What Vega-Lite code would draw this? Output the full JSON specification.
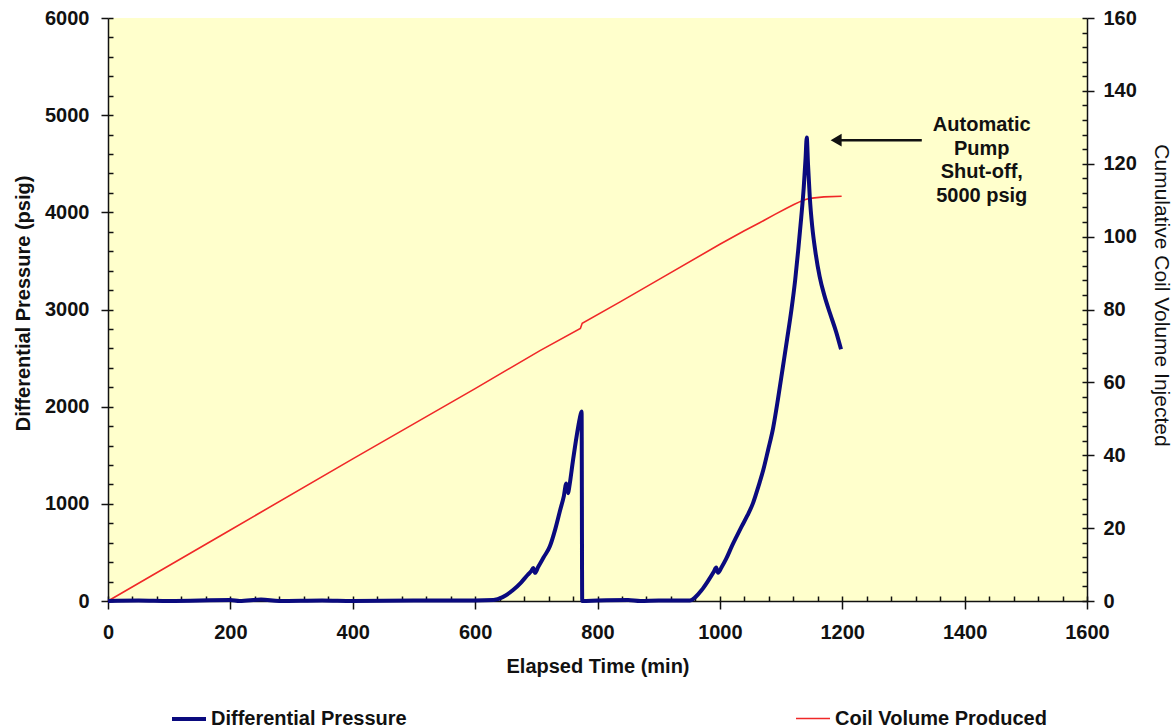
{
  "$schema": "https://vega.github.io/schema/vega-lite/v6.json",
  "autosize": {"type": "none"},
  "width": 979,
  "height": 583,
  "padding": {"left": 108, "top": 18, "right": 89, "bottom": 127},
  "background": "#FFFFFF",
  "view": {"fill": "#FFFFCC", "stroke": null},
  "config": {
    "font": "Liberation Sans",
    "axis": {
      "domainColor": "#111111",
      "domainWidth": 1.5,
      "tickColor": "#111111",
      "tickWidth": 1.5,
      "grid": false,
      "labelFlush": false,
      "labelFont": "Liberation Sans",
      "labelFontWeight": "bold",
      "labelFontSize": 20,
      "labelColor": "#111111",
      "titleFont": "Liberation Sans",
      "titleFontWeight": "bold",
      "titleFontSize": 20,
      "titleColor": "#111111"
    }
  },
  "datasets": {
    "pressure": [
      {"t": 0, "p": 0, "s": "Differential Pressure"},
      {"t": 50, "p": 5, "s": "Differential Pressure"},
      {"t": 100, "p": 0, "s": "Differential Pressure"},
      {"t": 200, "p": 10, "s": "Differential Pressure"},
      {"t": 215, "p": 0, "s": "Differential Pressure"},
      {"t": 250, "p": 15, "s": "Differential Pressure"},
      {"t": 280, "p": 0, "s": "Differential Pressure"},
      {"t": 350, "p": 5, "s": "Differential Pressure"},
      {"t": 400, "p": 0, "s": "Differential Pressure"},
      {"t": 500, "p": 5, "s": "Differential Pressure"},
      {"t": 600, "p": 5, "s": "Differential Pressure"},
      {"t": 630, "p": 10, "s": "Differential Pressure"},
      {"t": 645, "p": 40, "s": "Differential Pressure"},
      {"t": 662, "p": 113, "s": "Differential Pressure"},
      {"t": 675, "p": 190, "s": "Differential Pressure"},
      {"t": 686, "p": 270, "s": "Differential Pressure"},
      {"t": 692, "p": 310, "s": "Differential Pressure"},
      {"t": 695, "p": 340, "s": "Differential Pressure"},
      {"t": 698, "p": 290, "s": "Differential Pressure"},
      {"t": 703, "p": 350, "s": "Differential Pressure"},
      {"t": 712, "p": 450, "s": "Differential Pressure"},
      {"t": 722, "p": 560, "s": "Differential Pressure"},
      {"t": 731, "p": 740, "s": "Differential Pressure"},
      {"t": 739, "p": 936, "s": "Differential Pressure"},
      {"t": 745, "p": 1080, "s": "Differential Pressure"},
      {"t": 749, "p": 1210, "s": "Differential Pressure"},
      {"t": 752, "p": 1110, "s": "Differential Pressure"},
      {"t": 754, "p": 1180, "s": "Differential Pressure"},
      {"t": 760, "p": 1450, "s": "Differential Pressure"},
      {"t": 766, "p": 1700, "s": "Differential Pressure"},
      {"t": 771, "p": 1880, "s": "Differential Pressure"},
      {"t": 774, "p": 1950, "s": "Differential Pressure"},
      {"t": 775, "p": 0, "s": "Differential Pressure"},
      {"t": 800, "p": 5, "s": "Differential Pressure"},
      {"t": 850, "p": 10, "s": "Differential Pressure"},
      {"t": 870, "p": 0, "s": "Differential Pressure"},
      {"t": 900, "p": 5, "s": "Differential Pressure"},
      {"t": 951, "p": 5, "s": "Differential Pressure"},
      {"t": 960, "p": 40, "s": "Differential Pressure"},
      {"t": 970, "p": 110, "s": "Differential Pressure"},
      {"t": 980, "p": 200, "s": "Differential Pressure"},
      {"t": 990, "p": 300, "s": "Differential Pressure"},
      {"t": 994, "p": 345, "s": "Differential Pressure"},
      {"t": 997, "p": 290, "s": "Differential Pressure"},
      {"t": 1003, "p": 350, "s": "Differential Pressure"},
      {"t": 1010, "p": 430, "s": "Differential Pressure"},
      {"t": 1020, "p": 570, "s": "Differential Pressure"},
      {"t": 1027, "p": 660, "s": "Differential Pressure"},
      {"t": 1035, "p": 760, "s": "Differential Pressure"},
      {"t": 1045, "p": 880, "s": "Differential Pressure"},
      {"t": 1054, "p": 1005, "s": "Differential Pressure"},
      {"t": 1063, "p": 1180, "s": "Differential Pressure"},
      {"t": 1071, "p": 1350, "s": "Differential Pressure"},
      {"t": 1079, "p": 1560, "s": "Differential Pressure"},
      {"t": 1087, "p": 1780, "s": "Differential Pressure"},
      {"t": 1095, "p": 2080, "s": "Differential Pressure"},
      {"t": 1103, "p": 2410, "s": "Differential Pressure"},
      {"t": 1110, "p": 2700, "s": "Differential Pressure"},
      {"t": 1117, "p": 3000, "s": "Differential Pressure"},
      {"t": 1123, "p": 3300, "s": "Differential Pressure"},
      {"t": 1128, "p": 3610, "s": "Differential Pressure"},
      {"t": 1133, "p": 3950, "s": "Differential Pressure"},
      {"t": 1137, "p": 4250, "s": "Differential Pressure"},
      {"t": 1140, "p": 4550, "s": "Differential Pressure"},
      {"t": 1142, "p": 4770, "s": "Differential Pressure"},
      {"t": 1144, "p": 4500, "s": "Differential Pressure"},
      {"t": 1147, "p": 4150, "s": "Differential Pressure"},
      {"t": 1151, "p": 3850, "s": "Differential Pressure"},
      {"t": 1156, "p": 3600, "s": "Differential Pressure"},
      {"t": 1163, "p": 3340, "s": "Differential Pressure"},
      {"t": 1171, "p": 3140, "s": "Differential Pressure"},
      {"t": 1180, "p": 2960, "s": "Differential Pressure"},
      {"t": 1190, "p": 2770, "s": "Differential Pressure"},
      {"t": 1198, "p": 2590, "s": "Differential Pressure"}
    ],
    "volume": [
      {"t": 0, "v": 0, "s": "Coil Volume Produced"},
      {"t": 200, "v": 19.5, "s": "Coil Volume Produced"},
      {"t": 400, "v": 39.0, "s": "Coil Volume Produced"},
      {"t": 600, "v": 58.3, "s": "Coil Volume Produced"},
      {"t": 706, "v": 68.7, "s": "Coil Volume Produced"},
      {"t": 772, "v": 74.8, "s": "Coil Volume Produced"},
      {"t": 775, "v": 76.2, "s": "Coil Volume Produced"},
      {"t": 837, "v": 82.1, "s": "Coil Volume Produced"},
      {"t": 900, "v": 88.2, "s": "Coil Volume Produced"},
      {"t": 1000, "v": 97.9, "s": "Coil Volume Produced"},
      {"t": 1040, "v": 101.6, "s": "Coil Volume Produced"},
      {"t": 1065, "v": 103.8, "s": "Coil Volume Produced"},
      {"t": 1090, "v": 106.1, "s": "Coil Volume Produced"},
      {"t": 1109, "v": 107.8, "s": "Coil Volume Produced"},
      {"t": 1121, "v": 108.8, "s": "Coil Volume Produced"},
      {"t": 1131, "v": 109.6, "s": "Coil Volume Produced"},
      {"t": 1140, "v": 110.2, "s": "Coil Volume Produced"},
      {"t": 1147, "v": 110.5, "s": "Coil Volume Produced"},
      {"t": 1170, "v": 110.9, "s": "Coil Volume Produced"},
      {"t": 1199, "v": 111.1, "s": "Coil Volume Produced"}
    ],
    "note": [
      {"t": 1428, "p": 5000, "label": "Automatic\nPump\nShut-off,\n5000 psig"}
    ],
    "arrow": [
      {"t": 1190, "t2": 1330, "p": 4743}
    ]
  },
  "resolve": {
    "scale": {"y": "independent"},
    "axis": {"x": "independent", "y": "independent"}
  },
  "layer": [
    {
      "data": {"name": "pressure"},
      "mark": {"type": "point", "opacity": 0},
      "encoding": {
        "x": {"field": "t", "type": "quantitative",
          "scale": {"domain": [0, 1600], "nice": false},
          "axis": {"orient": "bottom", "values": [0,40,80,120,160,200,240,280,320,360,400,440,480,520,560,600,640,680,720,760,800,840,880,920,960,1000,1040,1080,1120,1160,1200,1240,1280,1320,1360,1400,1440,1480,1520,1560,1600],
            "tickSize": -5, "labels": false, "domain": false, "title": null}},
        "y": {"field": "p", "type": "quantitative",
          "scale": {"domain": [0, 6000], "nice": false},
          "axis": {"orient": "left", "values": [0,200,400,600,800,1000,1200,1400,1600,1800,2000,2200,2400,2600,2800,3000,3200,3400,3600,3800,4000,4200,4400,4600,4800,5000,5200,5400,5600,5800,6000],
            "tickSize": -5, "labels": false, "domain": false, "title": null}}
      }
    },
    {
      "data": {"name": "volume"},
      "mark": {"type": "point", "opacity": 0},
      "encoding": {
        "x": {"field": "t", "type": "quantitative", "scale": {"domain": [0, 1600], "nice": false}, "axis": null},
        "y": {"field": "v", "type": "quantitative",
          "scale": {"domain": [0, 160], "nice": false},
          "axis": {"orient": "right", "values": [0,4,8,12,16,20,24,28,32,36,40,44,48,52,56,60,64,68,72,76,80,84,88,92,96,100,104,108,112,116,120,124,128,132,136,140,144,148,152,156,160],
            "tickSize": -5, "labels": false, "domain": false, "title": null}}
      }
    },
    {
      "data": {"name": "volume"},
      "mark": {"type": "line", "interpolate": "linear"},
      "encoding": {
        "x": {"field": "t", "type": "quantitative", "scale": {"domain": [0, 1600], "nice": false}, "axis": null},
        "y": {"field": "v", "type": "quantitative",
          "scale": {"domain": [0, 160], "nice": false},
          "axis": {"orient": "right", "values": [0,20,40,60,80,100,120,140,160], "format": "d", "tickSize": 7, "labelPadding": 9,
            "title": "Cumulative Coil Volume Injected", "titlePadding": 14, "titleFontWeight": "normal", "titleFontSize": 21, "titleY": 277}},
        "color": {"field": "s", "type": "nominal",
          "scale": {"domain": ["Differential Pressure", "Coil Volume Produced"], "range": ["#0A0A7E", "#F02828"]},
          "legend": {"title": null, "orient": "none", "legendX": 62, "legendY": 682, "direction": "horizontal",
            "columns": 2, "columnPadding": 385, "symbolType": "stroke", "symbolSize": 1156,
            "labelFont": "Liberation Sans", "labelFontWeight": "bold", "labelFontSize": 20, "labelColor": "#111111", "labelOffset": 3, "labelLimit": 400}},
        "strokeWidth": {"field": "s", "type": "nominal",
          "scale": {"domain": ["Differential Pressure", "Coil Volume Produced"], "range": [4, 1.6]},
          "legend": {"title": null, "orient": "none", "legendX": 62, "legendY": 682, "direction": "horizontal",
            "columns": 2, "columnPadding": 385, "symbolType": "stroke", "symbolSize": 1156,
            "labelFont": "Liberation Sans", "labelFontWeight": "bold", "labelFontSize": 20, "labelColor": "#111111", "labelOffset": 3, "labelLimit": 400}}
      }
    },
    {
      "data": {"name": "pressure"},
      "mark": {"type": "line", "interpolate": "monotone", "strokeJoin": "round"},
      "encoding": {
        "x": {"field": "t", "type": "quantitative",
          "scale": {"domain": [0, 1600], "nice": false},
          "axis": {"orient": "bottom", "values": [0,200,400,600,800,1000,1200,1400,1600], "format": "d", "tickSize": 8, "labelPadding": 13,
            "title": "Elapsed Time (min)", "titlePadding": 14}},
        "y": {"field": "p", "type": "quantitative",
          "scale": {"domain": [0, 6000], "nice": false},
          "axis": {"orient": "left", "values": [0,1000,2000,3000,4000,5000,6000], "format": "d", "tickSize": 7, "labelPadding": 12,
            "title": "Differential Pressure (psig)", "titlePadding": 11, "titleY": 285}},
        "color": {"field": "s", "type": "nominal"},
        "strokeWidth": {"field": "s", "type": "nominal"}
      }
    },
    {
      "data": {"name": "arrow"},
      "mark": {"type": "rule", "color": "#111111", "strokeWidth": 2.5},
      "encoding": {
        "x": {"field": "t", "type": "quantitative", "scale": {"domain": [0, 1600], "nice": false}, "axis": null},
        "x2": {"field": "t2"},
        "y": {"field": "p", "type": "quantitative", "scale": {"domain": [0, 6000], "nice": false}, "axis": null}
      }
    },
    {
      "data": {"name": "arrow"},
      "mark": {"type": "point", "shape": "triangle-left", "filled": true, "color": "#111111", "size": 160, "opacity": 1},
      "encoding": {
        "x": {"field": "t", "type": "quantitative", "scale": {"domain": [0, 1600], "nice": false}, "axis": null},
        "y": {"field": "p", "type": "quantitative", "scale": {"domain": [0, 6000], "nice": false}, "axis": null}
      }
    },
    {
      "data": {"name": "note"},
      "mark": {"type": "text", "lineBreak": "\n", "align": "center", "baseline": "top", "font": "Liberation Sans",
        "fontWeight": "bold", "fontSize": 20, "lineHeight": 23.5, "color": "#111111"},
      "encoding": {
        "x": {"field": "t", "type": "quantitative", "scale": {"domain": [0, 1600], "nice": false}, "axis": null},
        "y": {"field": "p", "type": "quantitative", "scale": {"domain": [0, 6000], "nice": false}, "axis": null},
        "text": {"field": "label", "type": "nominal"}
      }
    }
  ]
}
